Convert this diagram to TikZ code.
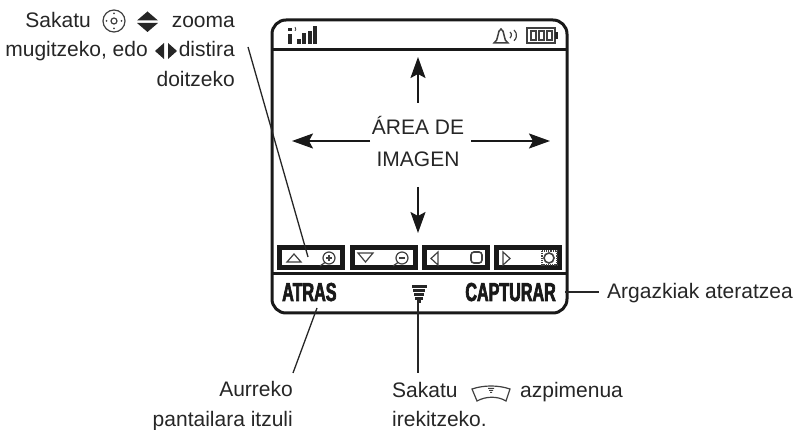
\documentclass[tikz,border=0pt]{standalone}
\usepackage{fontspec}
\setmainfont{Liberation Sans}
\newfontfamily\softfont[FakeStretch=0.62,FakeBold=2.5]{Liberation Sans Bold}
\usetikzlibrary{arrows.meta}
\tikzset{
    label/.style={inner sep=0pt, font=\fontsize{21}{24}\selectfont, text=black!85},
    softlabel/.style={inner sep=0pt, font=\softfont\fontsize{26}{28}\selectfont, text=black!90},
    softbox/.style={draw=black!90, line width=5pt, fill=white},
    leader/.style={line width=1.3pt, black!85},
    bigarrow/.style={line width=2pt, black!90, -{Stealth[length=21pt, width=15pt, inset=4pt]}},
    icon/.style={line width=1.2pt, black!75}
}
\begin{document}
\begin{tikzpicture}[x=1pt, y=-1pt]
    \useasboundingbox (0,0) rectangle (801,430);

    % Phone outline
    \draw[line width=3pt, black!90, rounded corners=14pt] (272,20) rectangle (567,313);
    \draw[line width=3pt, black!90] (272,50) -- (567,50);
    \draw[line width=3pt, black!90] (272,274) -- (567,274);

    % Status bar
    \fill[black!85] (288,34) rectangle (292,44);
    \fill[black!85] (288,28) rectangle (292,31);
    \foreach \x/\h in {297/39, 302/33, 308/31, 313/26} {
        \fill[black!85] (\x,\h) rectangle (\x+4,44);
    }
    \draw[icon, line width=.8pt] (295,27) arc (-50:50:2.5);
    \draw[icon, line width=1.5pt] (494,43) .. controls (499,41) and (497,30) .. (501,29) .. controls (505,30) and (503,41) .. (508,43) -- cycle;
    \draw[icon, line width=1.2pt] (510,32) arc (-50:50:4);
    \draw[icon, line width=1.2pt] (514,30) arc (-50:50:7);
    \draw[icon, line width=1.5pt] (527,28) rectangle (555,43);
    \fill[black!85] (555,32) rectangle (558,39);
    \foreach \x in {531, 539, 547} {
        \draw[icon] (\x,31) rectangle (\x+5,40);
    }

    % Soft key boxes
    \foreach \x in {279.5, 352.5, 424.5, 496.5} {
        \draw[softbox] (\x,247.5) rectangle (\x+63,268);
    }
    \draw[icon] (287,262) -- (294,254) -- (301,262) -- cycle;
    \draw[icon] (358,253) -- (365.5,262) -- (373,253) -- cycle;
    \draw[icon] (438,252) -- (431,258.5) -- (438,265) -- cycle;
    \draw[icon] (503,252) -- (510,258.5) -- (503,265) -- cycle;
    \draw[icon] (329,258) circle (6);
    \draw[icon] (325,262.5) -- (320,266);
    \draw[icon] (326,258) -- (332,258) (329,255) -- (329,261);
    \draw[icon] (402,258) circle (6);
    \draw[icon] (398,262.5) -- (393,266);
    \draw[icon] (399,258) -- (405,258);
    \draw[icon, line width=1.6pt, rounded corners=3pt] (471,252) rectangle (482,263);
    \draw[icon, line width=1.6pt] (549,258) circle (5);
    \draw[icon, densely dotted] (542,251) rectangle (557,265);

    % Image area
    \node[label, align=center] (area) at (418,141.5) {ÁREA DE\\[8pt]IMAGEN};
    \coordinate (areaup) at (418,57);
    \coordinate (areadown) at (418,233);
    \coordinate (arealeft) at (292,141);
    \coordinate (arearight) at (550,141);
    \draw[bigarrow] (418,103) -- (areaup);
    \draw[bigarrow] (418,187) -- (areadown);
    \draw[bigarrow] (370,141) -- (arealeft);
    \draw[bigarrow] (471,141) -- (arearight);

    % Soft keys
    \node[softlabel, anchor=base west] (atras) at (282,301) {ATRAS};
    \node[softlabel, anchor=base east] (capturar) at (556,301) {CAPTURAR};
    \foreach \y/\a in {285/7.5, 289/6, 293/5, 297/4} {
        \fill[black!85] (419-\a,\y) rectangle (419+\a,\y+2.6);
    }
    \fill[black!85] (417,300.5) rectangle (421,303);

    % Left callout
    \node[label, anchor=base east] (zooma) at (235,28) {zooma};
    \node[label, anchor=base east] (sakatua) at (91,28) {Sakatu};
    \draw[icon] (114,21) circle (11);
    \draw[icon] (114,21) circle (3);
    \foreach \a in {0, 90, 180, 270} {
        \fill[black!75] (114,21) ++(\a:7.5) circle (1);
    }
    \fill[black!85] (137,20.5) -- (147.5,11.5) -- (158,20.5) -- cycle;
    \fill[black!85] (137,23) -- (147.5,32) -- (158,23) -- cycle;
    \node[label, anchor=base east] (distira) at (235,57) {distira};
    \node[label, anchor=base east] (mugitzeko) at (148,57) {mugitzeko, edo};
    \fill[black!85] (164,43) -- (155,51) -- (164,59) -- cycle;
    \fill[black!85] (168,43) -- (177,51) -- (168,59) -- cycle;
    \node[label, anchor=base east] (doitzeko) at (235,87) {doitzeko};
    \coordinate (zoomstart) at (248,47);
    \coordinate (zoomend) at (308,257);
    \draw[leader] (zoomstart) -- (zoomend);

    % Back callout
    \node[label, anchor=base east] (aurreko) at (293,397) {Aurreko};
    \node[label, anchor=base east] (pantailara) at (293,427) {pantailara itzuli};
    \coordinate (atrasfoot) at (317,308);
    \coordinate (aurrekotop) at (293,373);
    \draw[leader] (atrasfoot) -- (aurrekotop);

    % Menu callout
    \node[label, anchor=base west] (sakatub) at (392,398) {Sakatu};
    \draw[icon] (472,389) -- (477,401) .. controls (486,396) and (498,396) .. (506,401) -- (510,389) .. controls (498,385) and (484,385) .. (472,389) -- cycle;
    \fill[black!75] (488,388) rectangle (494,389) (489,390) rectangle (493,391) (490,392) rectangle (492,393);
    \node[label, anchor=base west] (azpimenua) at (520,398) {azpimenua};
    \node[label, anchor=base west] (irekitzeko) at (392,427) {irekitzeko.};
    \coordinate (menutop) at (418,373);
    \draw[leader] (418,303) -- (menutop);

    % Capture callout
    \node[label, anchor=base west] (argazkiak) at (607,299) {Argazkiak ateratzea};
    \coordinate (capturarfoot) at (565,292);
    \draw[leader] (capturarfoot) -- (599,292);
\end{tikzpicture}
\end{document}
